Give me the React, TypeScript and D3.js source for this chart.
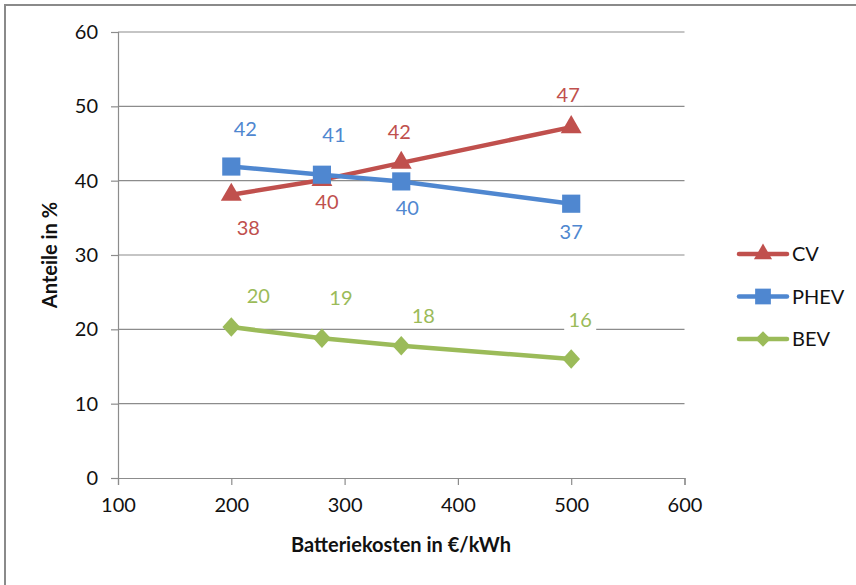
import React, { useEffect, useRef } from 'react';
import * as d3 from 'd3';

// Batteriekosten (€/kWh)
const costs = [200, 280, 350, 500];

const cvShare = [38.1, 40.1, 42.4, 47.2];
const phevShare = [41.9, 40.8, 39.9, 36.9];
const bevShare = [20.3, 18.8, 17.8, 16.0];

const xTicks = [100, 200, 300, 400, 500, 600];
const yTicks = [0, 10, 20, 30, 40, 50, 60];

// data label placement per point: [dx, dy] relative to the marker
const cvLabelPos = [[17, 33], [5, 22], [-2, -31], [-3, -32]];
const phevLabelPos = [[14, -38], [12, -40], [6, 27], [0, 28]];
const bevLabelPos = [[27, -31], [19, -40], [22, -30], [9, -39]];

type Marker = 'triangle' | 'square' | 'diamond';

const seriesList: { name: string; values: number[]; color: string; marker: Marker; labelPos: number[][] }[] = [
  { name: 'CV', values: cvShare, color: '#C0504D', marker: 'triangle', labelPos: cvLabelPos },
  { name: 'PHEV', values: phevShare, color: '#4F87D0', marker: 'square', labelPos: phevLabelPos },
  { name: 'BEV', values: bevShare, color: '#9BBB59', marker: 'diamond', labelPos: bevLabelPos },
];

const W = 856;
const H = 585;
const FONT = 'Lato, "Open Sans", sans-serif';

function markerPath(m: Marker, scale: number) {
  if (m === 'triangle') return d3.symbol(d3.symbolTriangle, 190 * scale)();
  if (m === 'square') return d3.symbol(d3.symbolSquare, 330 * scale)();
  return d3.symbol(d3.symbolDiamond2, 200 * scale)();
}

export default function App() {
  const ref = useRef<SVGSVGElement>(null);

  useEffect(() => {
    const svg = d3.select(ref.current);
    svg.selectAll('*').remove();

    const x = d3.scaleLinear().domain([100, 600]).range([118, 684.5]);
    const y = d3.scaleLinear().domain([0, 60]).range([478, 32]);

    svg.append('rect').attr('width', W).attr('height', H).attr('fill', '#fff');
    // outer chart border (only top/left visible)
    svg.append('rect')
      .attr('x', 5).attr('y', 5).attr('width', W + 20).attr('height', H + 20)
      .attr('fill', 'none').attr('stroke', '#8a8a8a').attr('stroke-width', 2);

    // gridlines
    svg.append('g').selectAll('line').data(yTicks.filter(t => t > 0)).join('line')
      .attr('x1', x(100)).attr('x2', x(600))
      .attr('y1', d => y(d)).attr('y2', d => y(d))
      .attr('stroke', '#8c8c8c').attr('stroke-width', 1.2);

    // y axis
    const yAxis = svg.append('g').attr('transform', `translate(${x(100)},0)`)
      .call(d3.axisLeft(y).tickValues(yTicks).tickSize(7).tickPadding(13));
    // x axis
    const xAxis = svg.append('g').attr('transform', `translate(0,${y(0)})`)
      .call(d3.axisBottom(x).tickValues(xTicks).tickSize(7).tickPadding(13));
    [yAxis, xAxis].forEach(ax => {
      ax.select('.domain').attr('stroke', '#8c8c8c').attr('stroke-width', 1.2);
      ax.selectAll('.tick line').attr('stroke', '#8c8c8c').attr('stroke-width', 1.2);
      ax.selectAll('.tick text').attr('fill', '#111').style('font-family', FONT).style('font-size', '20px');
    });

    // axis titles
    svg.append('text')
      .attr('transform', `translate(50,255) rotate(-90)`)
      .attr('text-anchor', 'middle').attr('dy', '0.35em')
      .style('font-family', FONT).style('font-size', '20px').style('font-weight', 'bold')
      .attr('fill', '#111')
      .text('Anteile in %');
    svg.append('text')
      .attr('x', 401).attr('y', 545).attr('dy', '0.35em')
      .attr('text-anchor', 'middle')
      .style('font-family', FONT).style('font-size', '20px').style('font-weight', 'bold')
      .attr('fill', '#111')
      .text('Batteriekosten in €/kWh');

    const line = d3.line<number>().x((_, i) => x(costs[i])).y(d => y(d));

    seriesList.forEach(s => {
      svg.append('path')
        .datum(s.values)
        .attr('d', line)
        .attr('fill', 'none')
        .attr('stroke', s.color)
        .attr('stroke-width', 4.5)
        .attr('stroke-linejoin', 'round');
      svg.append('g').selectAll('path').data(s.values).join('path')
        .attr('transform', (d, i) => `translate(${x(costs[i])},${y(d)})${s.marker === 'diamond' ? ' scale(1,1.1)' : ''}`)
        .attr('d', markerPath(s.marker, 1))
        .attr('fill', s.color);
    });

    // data labels
    seriesList.forEach(s => {
      const g = svg.append('g').selectAll('g').data(s.values).join('g')
        .attr('transform', (d, i) => `translate(${x(costs[i]) + s.labelPos[i][0]},${y(d) + s.labelPos[i][1]})`);
      g.append('rect')
        .attr('x', -16).attr('y', -12).attr('width', 32).attr('height', 22)
        .attr('fill', '#fff');
      g.append('text')
        .attr('text-anchor', 'middle').attr('dy', '0.35em')
        .style('font-family', FONT).style('font-size', '20px')
        .attr('fill', s.color)
        .text(d => String(Math.round(d)));
    });

    // legend
    const legY = d3.scalePoint<string>().domain(seriesList.map(s => s.name)).range([254, 339]);
    const leg = svg.append('g').selectAll('g').data(seriesList).join('g')
      .attr('transform', s => `translate(0,${legY(s.name)})`);
    leg.append('line')
      .attr('x1', 739).attr('x2', 787)
      .attr('stroke', s => s.color).attr('stroke-width', 4.5).attr('stroke-linecap', 'round');
    leg.append('path')
      .attr('transform', 'translate(763,0)')
      .attr('d', s => markerPath(s.marker, 0.75))
      .attr('fill', s => s.color);
    leg.append('text')
      .attr('x', 792).attr('dy', '0.35em')
      .style('font-family', FONT).style('font-size', '20px')
      .attr('fill', '#111')
      .text(s => s.name);
  }, []);

  return (
    <svg ref={ref} width={W} height={H} style={{ position: 'absolute', left: 0, top: 0 }} />
  );
}
